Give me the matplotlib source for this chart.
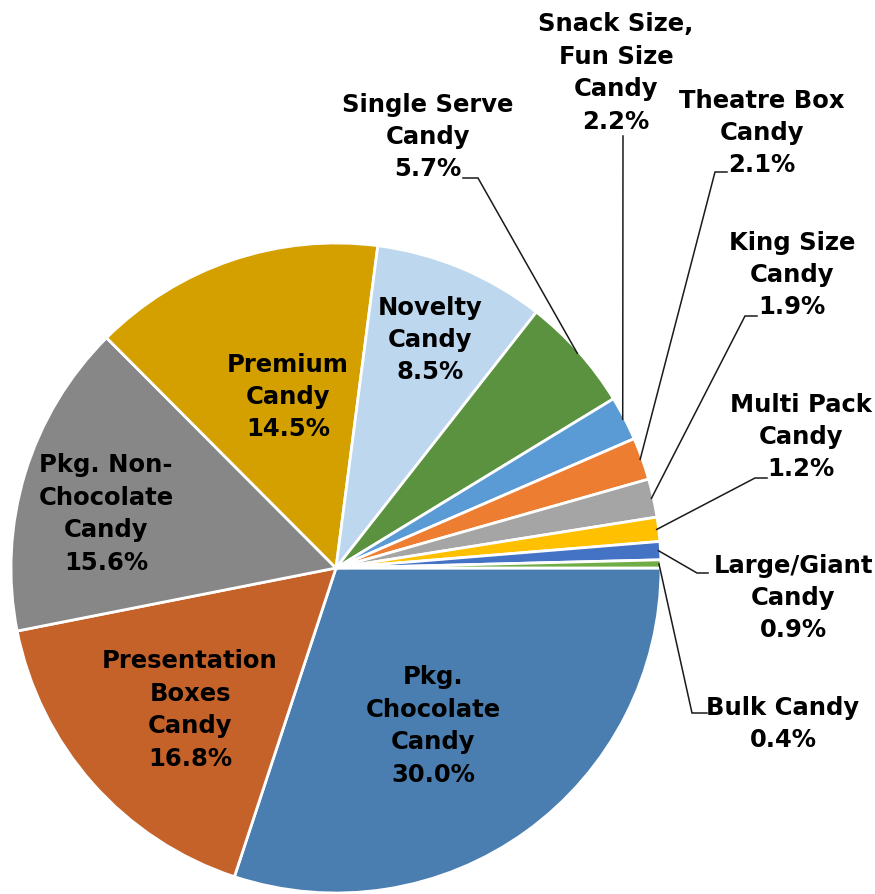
import numpy as np
import matplotlib
matplotlib.use("Agg")
import matplotlib.pyplot as plt

# Candy category shares (percent), in clockwise order from 3 o'clock
categories = [
    "Pkg.\nChocolate\nCandy",
    "Presentation\nBoxes\nCandy",
    "Pkg. Non-\nChocolate\nCandy",
    "Premium\nCandy",
    "Novelty\nCandy",
    "Single Serve\nCandy",
    "Snack Size,\nFun Size\nCandy",
    "Theatre Box\nCandy",
    "King Size\nCandy",
    "Multi Pack\nCandy",
    "Large/Giant\nCandy",
    "Bulk Candy",
]
shares = [30.0, 16.8, 15.6, 14.5, 8.5, 5.7, 2.2, 2.1, 1.9, 1.2, 0.9, 0.4]
colors = ["#4A7EB0", "#C5622A", "#878787", "#D4A000", "#BDD7EE", "#5B9240",
          "#5B9BD5", "#ED7D31", "#A5A5A5", "#FFC000", "#4472C4", "#70AD47"]

W, H = 875, 894
fig = plt.figure(figsize=(W / 100, H / 100), dpi=100)
ax = fig.add_axes([0, 0, 1, 1])

cx, cy, R = 336, H - 568, 325

wedges, _ = ax.pie(shares, colors=colors, startangle=0, counterclock=False,
                   center=(cx, cy), radius=R, normalize=True,
                   wedgeprops=dict(edgecolor="white", linewidth=2),
                   frame=True)
ax.set_xlim(0, W)
ax.set_ylim(0, H)
ax.set_aspect("equal")
ax.axis("off")

font = dict(family="DejaVu Sans", fontweight="bold", fontsize=17.5,
            color="black", ha="center", va="center", linespacing=1.44)

# Text block centres (pixel coordinates from top-left)
inside_pos = {0: (433, 726), 1: (190, 710), 2: (106, 514), 3: (288, 397), 4: (430, 340)}
outside_pos = {5: (428, 137), 6: (616, 73), 7: (762, 133), 8: (792, 275),
               9: (801, 437), 10: (793, 598), 11: (783, 724)}
# Leader line elbow points: (elbow, end of horizontal tick next to the text)
leader_pts = {5: ((478, 178), (463, 178)),
              6: ((623, 136), (623, 136)),
              7: ((715, 172), (727, 172)),
              8: ((745, 316), (757, 316)),
              9: ((755, 478), (767, 478)),
              10: ((697, 573), (708, 573)),
              11: ((692, 713), (707, 713))}

for i, (lab, val) in enumerate(zip(categories, shares)):
    text = f"{lab}\n{val:.1f}%"
    if i in inside_pos:
        x, y = inside_pos[i]
        ax.text(x, H - y, text, **font)
    else:
        x, y = outside_pos[i]
        ax.text(x, H - y, text, **font)
        w = wedges[i]
        mid = np.deg2rad((w.theta1 + w.theta2) / 2)
        sx = cx + (R - 2) * np.cos(mid)
        sy = cy + (R - 2) * np.sin(mid)
        (ex, ey), (tx, ty) = leader_pts[i]
        ax.plot([sx, ex, tx], [sy, H - ey, H - ty], color="#1a1a1a", lw=1.1,
                solid_joinstyle="miter", zorder=5)

fig.savefig("out.png", dpi=100)
